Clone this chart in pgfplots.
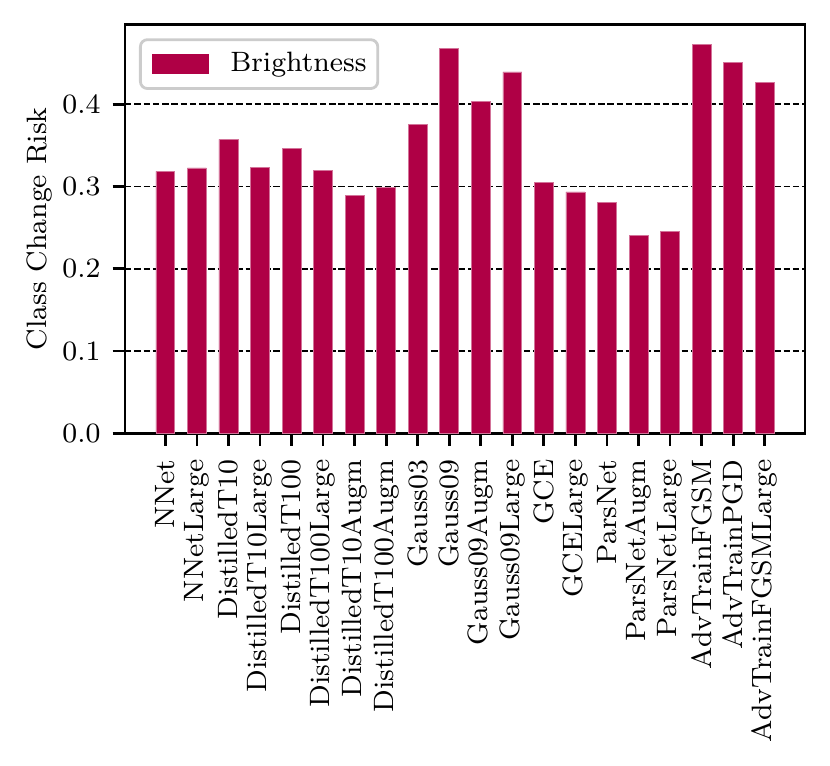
\documentclass[border=0pt]{standalone}
\usepackage{pgfplots}
\pgfplotsset{compat=1.18}
\definecolor{barc}{RGB}{175,0,69}
\begin{document}
\fontsize{8}{9.6}\selectfont
\begin{tikzpicture}
\begin{axis}[
  at={(0,0)}, anchor=south west,
  scale only axis, width=194.29pt, height=116.86pt,
  xmin=-1.28, xmax=20.28, ymin=0, ymax=0.4973,
  axis line style={line width=0.8pt},
  every tick/.style={black, line width=0.8pt},
  major tick length=3.5pt,
  tick align=outside,
  xtick={0,...,19},
  xticklabels={NNet,NNetLarge,DistilledT10,DistilledT10Large,DistilledT100,DistilledT100Large,DistilledT10Augm,DistilledT100Augm,Gauss03,Gauss09,Gauss09Augm,Gauss09Large,GCE,GCELarge,ParsNet,ParsNetAugm,ParsNetLarge,AdvTrainFGSM,AdvTrainPGD,AdvTrainFGSMLarge},
  xticklabel style={rotate=90, anchor=east, font=\fontsize{8}{9.6}\selectfont, inner sep=3.8pt},
  ytick={0,0.1,0.2,0.3,0.4},
  yticklabel style={font=\fontsize{8}{9.6}\selectfont, inner sep=3.3pt, /pgf/number format/fixed, /pgf/number format/fixed zerofill, /pgf/number format/precision=1},
  xtick pos=bottom, ytick pos=left,
  ymajorgrids,
  major grid style={black, line width=0.5pt, dash pattern=on 1.85pt off 0.8pt},
  ylabel={Class Change Risk},
  ylabel style={font=\fontsize{8}{9.6}\selectfont, xshift=0pt, yshift=-3.2pt},
  legend style={at={(0,1)}, anchor=north west, xshift=4pt, yshift=-4pt,
    draw=black!20, line width=0.8pt, rounded corners=2pt, fill=white,
    inner xsep=3.2pt, inner ysep=3.6pt, font=\fontsize{8}{9.6}\selectfont,
    nodes={inner sep=0pt},
    /tikz/every odd column/.append style={column sep=6.3pt}},
  legend cell align=left,
  legend image code/.code={\fill[barc, sharp corners] (0pt,-2.7pt) rectangle (16pt,2.7pt);},
]
\addplot[ybar, bar width=0.6, bar shift=0pt, fill=barc, draw=barc!55!white, line width=0.2pt] coordinates {
(0,0.3185) (1,0.3226) (2,0.3574) (3,0.3229) (4,0.3460) (5,0.3197) (6,0.2894) (7,0.2990)
(8,0.3757) (9,0.4680) (10,0.4036) (11,0.4393) (12,0.3050) (13,0.2934) (14,0.2812)
(15,0.2403) (16,0.2456) (17,0.4730) (18,0.4510) (19,0.4267)};
\addlegendentry{Brightness}
\end{axis}
\pgfresetboundingbox
\path (-35.71pt,-94.77pt) rectangle (201.43pt,123.8pt);
\end{tikzpicture}
\end{document}
